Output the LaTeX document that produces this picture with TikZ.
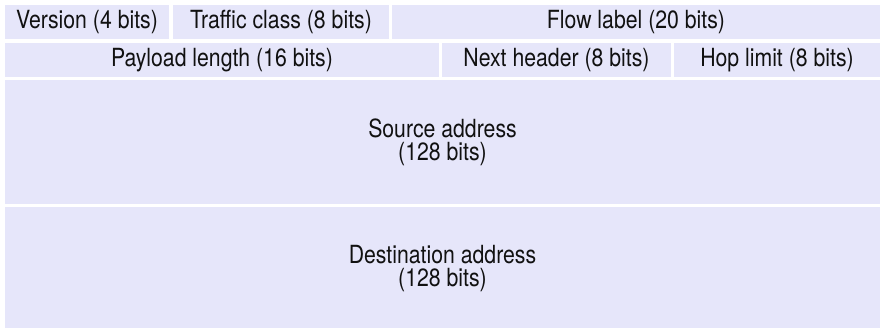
\documentclass[tikz,border=0pt]{standalone}
\usepackage{fontspec}
\setmainfont[FakeStretch=0.85]{TeX Gyre Heros}
\definecolor{fieldfill}{HTML}{E6E6FA}
\definecolor{fieldtext}{HTML}{111111}
\begin{document}
\begin{tikzpicture}[x=1pt,y=-1pt,
  field/.style={fill=fieldfill, draw=none, inner sep=0pt, text=fieldtext,
    font=\fontsize{25}{23}\selectfont, align=center, anchor=center}]
\useasboundingbox (0,0) rectangle (882,328);
% row 1
\node[field, minimum width=164pt, minimum height=34pt] (ver) at (87,22) {Version (4 bits)};
\node[field, minimum width=216pt, minimum height=34pt] (tc) at (281,22) {Traffic class (8 bits)};
\node[field, minimum width=488pt, minimum height=34pt] (fl) at (636,22) {Flow label (20 bits)};
% row 2
\node[field, minimum width=434pt, minimum height=34pt] (pl) at (222,60) {Payload length (16 bits)};
\node[field, minimum width=229pt, minimum height=34pt] (nh) at (556.5,60) {Next header (8 bits)};
\node[field, minimum width=206pt, minimum height=34pt] (hl) at (777,60) {Hop limit (8 bits)};
% row 3
\node[field, minimum width=875pt, minimum height=124pt] (src) at (442.5,142) {Source address\\(128 bits)};
% row 4
\node[field, minimum width=875pt, minimum height=124pt] (dst) at (442.5,269) {Destination address\\(128 bits)};
\end{tikzpicture}
\end{document}
